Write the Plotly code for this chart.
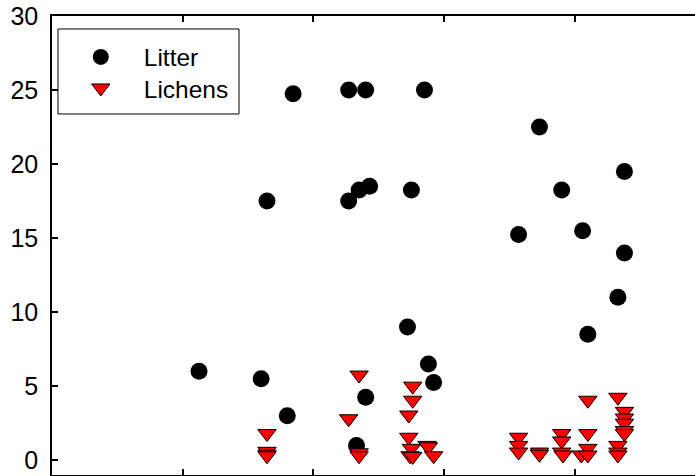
import plotly.graph_objects as go

litter_x = [1.125, 1.60, 1.645, 1.80, 1.845, 2.27, 2.27, 2.40, 2.35, 2.43, 2.40, 2.33,
            2.75, 2.72, 2.85, 2.88, 2.92, 3.57, 3.73, 3.90, 4.06, 4.10, 4.33, 4.38, 4.38]
litter_y = [6.0, 5.5, 17.5, 3.0, 24.75, 17.5, 25.0, 25.0, 18.25, 18.5, 4.25, 1.0,
            18.25, 9.0, 25.0, 6.5, 5.25, 15.25, 22.5, 18.25, 15.5, 8.5, 11.0, 14.0, 19.5]

lichens_x = [1.645, 1.645, 1.645, 1.645,
             2.35, 2.27, 2.35, 2.35,
             2.76, 2.76, 2.73, 2.73, 2.75, 2.74, 2.76,
             2.87, 2.88, 2.92,
             3.57, 3.57, 3.57, 3.73, 3.73,
             3.90, 3.90, 3.90, 3.91,
             4.05, 4.10, 4.10, 4.10, 4.10,
             4.33, 4.38, 4.38, 4.38, 4.38, 4.38, 4.33, 4.33, 4.33]
lichens_y = [1.8, 0.6, 0.4, 0.3,
             5.75, 2.8, 0.5, 0.3,
             5.0, 4.05, 3.05, 1.55, 0.8, 0.3, 0.25,
             1.0, 0.9, 0.3,
             1.55, 1.0, 0.55, 0.55, 0.4,
             1.8, 1.3, 0.55, 0.35,
             0.35, 4.05, 1.8, 0.8, 0.35,
             4.25, 3.3, 2.85, 2.5, 2.0, 1.8, 1.0, 0.55, 0.35]

y_ticks = [0, 5, 10, 15, 20, 25, 30]
x_ticks = [1, 2, 3, 4]

fig = go.Figure()
fig.add_trace(go.Scatter(
    x=litter_x, y=litter_y, mode="markers", name="Litter", legend="legend",
    marker=dict(symbol="circle", size=17, color="black", line=dict(width=0)),
))
fig.add_trace(go.Scatter(
    x=lichens_x, y=lichens_y, mode="markers", name="Lichens", legend="legend2",
    marker=dict(symbol="triangle-down", size=16, color="#ff0000",
                line=dict(width=1, color="black")),
))

leg_common = dict(
    xanchor="left", yanchor="middle", borderwidth=0,
    bgcolor="rgba(0,0,0,0)", font=dict(size=24.5), itemwidth=76,
)

fig.update_layout(
    width=695, height=476,
    margin=dict(l=52, r=0, t=16, b=1),
    paper_bgcolor="white", plot_bgcolor="white",
    font=dict(family="Liberation Sans, Arial, sans-serif", size=24, color="black"),
    showlegend=True,
    legend=dict(x=0.009, y=0.9107, **leg_common),
    legend2=dict(x=0.009, y=0.8431, **leg_common),
    shapes=[dict(
        type="rect", xref="paper", yref="paper",
        x0=0.0093, x1=0.2908, y0=0.7865, y1=0.9717,
        line=dict(color="black", width=1), fillcolor="rgba(0,0,0,0)", layer="above",
    )],
    xaxis=dict(
        range=[0, 4.92], tickvals=x_ticks, showticklabels=False,
        ticks="inside", ticklen=6, tickwidth=1.5, tickcolor="black",
        showline=True, linecolor="black", linewidth=1.5, mirror="allticks",
        showgrid=False, zeroline=False,
    ),
    yaxis=dict(
        range=[-1, 30], tickvals=y_ticks,
        ticks="inside", ticklen=6, tickwidth=1.5, tickcolor="black",
        showline=True, linecolor="black", linewidth=1.5,
        showgrid=False, zeroline=False, ticklabelstandoff=7,
        tickfont=dict(size=25),
    ),
)

fig.write_html("out.html")
